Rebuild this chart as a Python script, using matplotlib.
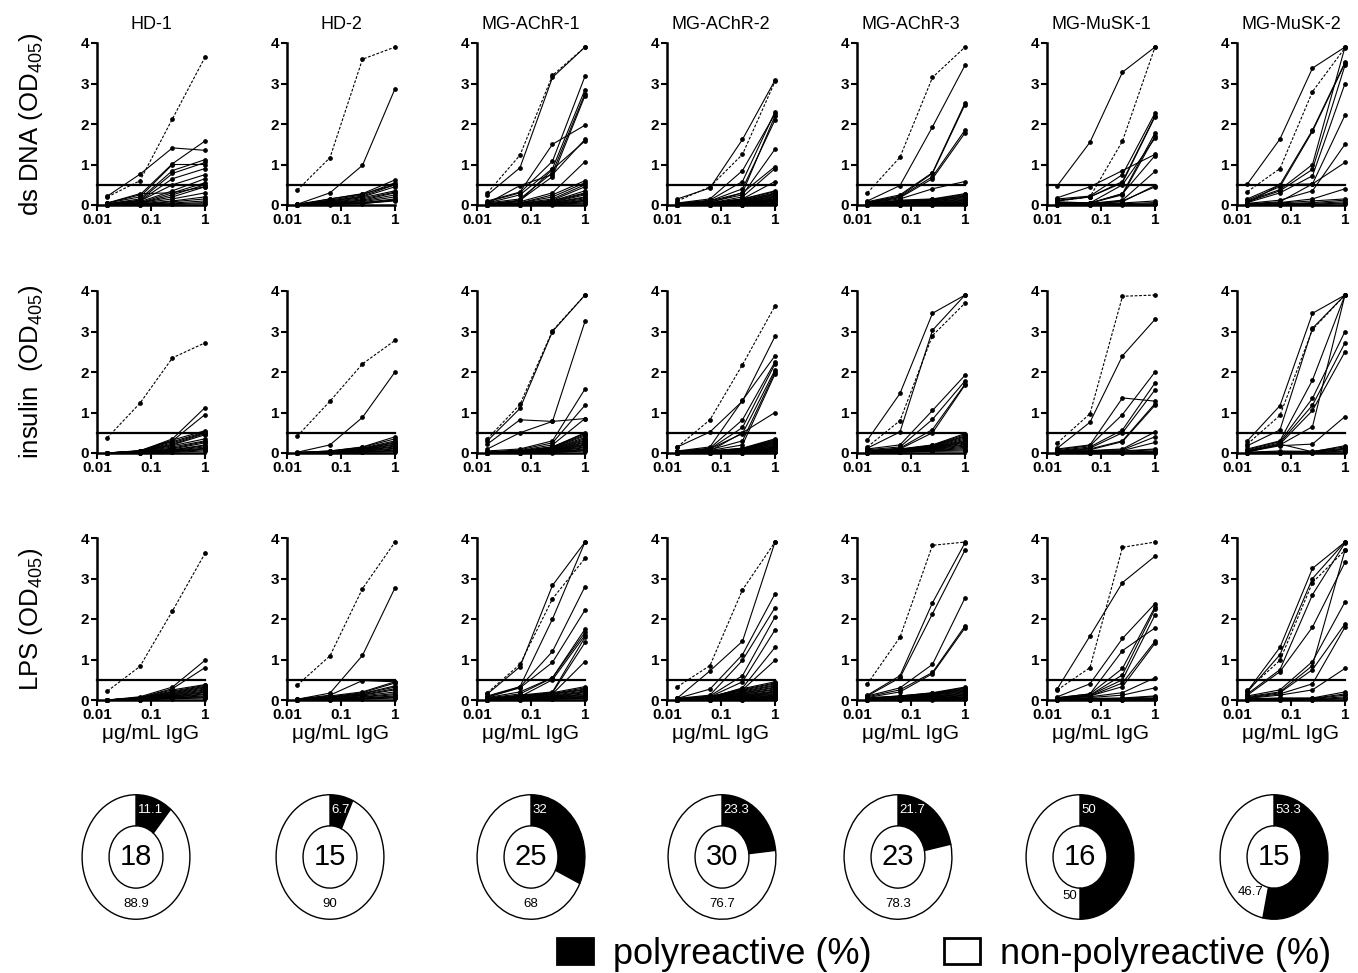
''' Polyreactivity ELISA of recombinant IgG from HD and MG donors '''

import matplotlib
matplotlib.use('Agg')
import matplotlib.pyplot as plt
from matplotlib import font_manager
from matplotlib.patches import Patch
from matplotlib.ticker import FixedLocator, NullLocator

names = {f.name for f in font_manager.fontManager.ttflist}
narrow = 'Liberation Sans Narrow' if 'Liberation Sans Narrow' in names else 'Liberation Sans'
plt.rcParams['font.family'] = [narrow, 'DejaVu Sans']
plt.rcParams['mathtext.default'] = 'regular'

# ---- data ----
conc = [0.0156, 0.0625, 0.25, 1.0]  # ug/mL IgG
cutoff = 0.5

donors = ['HD-1', 'HD-2', 'MG-AChR-1', 'MG-AChR-2', 'MG-AChR-3', 'MG-MuSK-1', 'MG-MuSK-2']
n_clones = [18, 15, 25, 30, 23, 16, 15]
poly_pct = [11.1, 6.7, 32, 23.3, 21.7, 50, 53.3]
nonpoly_pct = [88.9, 90, 68, 76.7, 78.3, 50, 46.7]
antigens = ['ds DNA (OD$_{405}$)', 'insulin  (OD$_{405}$)', 'LPS (OD$_{405}$)']

# positive control (dashed line), one per donor
ctrl_dsdna = [[0.2, 0.6, 2.13, 3.65], [0.37, 1.17, 3.6, 3.9], [0.3, 1.23, 3.2, 3.9],
              [0.1, 0.45, 1.25, 3.05], [0.3, 1.18, 3.15, 3.9], [0.1, 0.2, 1.58, 3.9],
              [0.33, 0.9, 2.8, 3.88]]
ctrl_insulin = [[0.38, 1.23, 2.35, 2.72], [0.42, 1.28, 2.2, 2.78], [0.35, 1.2, 3.02, 3.9],
                [0.15, 0.82, 2.18, 3.63], [0.15, 0.8, 2.9, 3.7], [0.25, 0.97, 3.87, 3.9],
                [0.22, 0.93, 3.05, 3.9]]
ctrl_lps = [[0.22, 0.83, 2.2, 3.62], [0.37, 1.09, 2.75, 3.9], [0.18, 0.88, 2.5, 3.5],
            [0.33, 0.85, 2.72, 3.9], [0.4, 1.55, 3.82, 3.9], [0.25, 0.8, 3.77, 3.9],
            [0.25, 0.98, 2.9, 3.7]]

# ds DNA
dsdna_hd1 = [[0.22, 0.76, 1.41, 1.35], [0.05, 0.25, 1.02, 1.58], [0.03, 0.15, 0.85, 1.12],
             [0.03, 0.12, 0.78, 1.05], [0.02, 0.1, 0.65, 0.9], [0.02, 0.1, 0.5, 0.75],
             [0.02, 0.08, 0.35, 0.65], [0.01, 0.06, 0.3, 0.55], [0.01, 0.05, 0.25, 0.5],
             [0.01, 0.05, 0.2, 0.45], [0.01, 0.04, 0.15, 0.3], [0.01, 0.03, 0.1, 0.2],
             [0.0, 0.02, 0.08, 0.15], [0.0, 0.02, 0.05, 0.1], [0.0, 0.01, 0.03, 0.06],
             [0.0, 0.01, 0.02, 0.03], [0.05, 0.28, 0.3, 0.45], [0.05, 0.2, 1.0, 1.0]]
dsdna_hd2 = [[0.02, 0.3, 0.98, 2.87], [0.02, 0.15, 0.28, 0.62], [0.02, 0.12, 0.25, 0.55],
             [0.01, 0.1, 0.22, 0.5], [0.01, 0.1, 0.2, 0.45], [0.01, 0.08, 0.18, 0.35],
             [0.01, 0.07, 0.15, 0.32], [0.01, 0.06, 0.12, 0.3], [0.0, 0.05, 0.1, 0.25],
             [0.0, 0.04, 0.08, 0.2], [0.0, 0.03, 0.06, 0.15], [0.0, 0.03, 0.05, 0.13],
             [0.0, 0.02, 0.04, 0.1], [0.0, 0.15, 0.27, 0.5], [0.0, 0.01, 0.03, 0.12]]
dsdna_achr1 = [[0.25, 0.92, 3.15, 3.9], [0.1, 0.32, 1.5, 1.97], [0.08, 0.3, 1.08, 3.18],
               [0.05, 0.25, 0.9, 2.85], [0.05, 0.15, 0.8, 2.75], [0.04, 0.48, 0.75, 1.62],
               [0.03, 0.12, 0.7, 2.7], [0.03, 0.1, 0.88, 1.58], [0.02, 0.08, 0.3, 1.07],
               [0.02, 0.05, 0.25, 0.6], [0.02, 0.05, 0.2, 0.55], [0.01, 0.04, 0.15, 0.5],
               [0.01, 0.04, 0.12, 0.45], [0.01, 0.03, 0.1, 0.35], [0.01, 0.03, 0.1, 0.3],
               [0.01, 0.03, 0.08, 0.28], [0.01, 0.02, 0.07, 0.25], [0.0, 0.02, 0.06, 0.2],
               [0.0, 0.02, 0.05, 0.18], [0.0, 0.02, 0.04, 0.15], [0.0, 0.01, 0.03, 0.12],
               [0.0, 0.01, 0.03, 0.1], [0.0, 0.01, 0.02, 0.08], [0.0, 0.01, 0.02, 0.05],
               [0.0, 0.0, 0.01, 0.03]]
dsdna_achr2 = [[0.15, 0.42, 1.62, 3.08], [0.05, 0.15, 0.85, 2.25], [0.04, 0.12, 0.58, 2.3],
               [0.03, 0.1, 0.4, 2.1], [0.03, 0.1, 0.3, 2.2], [0.03, 0.08, 0.25, 1.38],
               [0.02, 0.06, 0.3, 0.95], [0.02, 0.05, 0.2, 0.9], [0.02, 0.05, 0.15, 0.58],
               [0.02, 0.05, 0.15, 0.35], [0.02, 0.04, 0.14, 0.33], [0.01, 0.04, 0.12, 0.3],
               [0.01, 0.04, 0.12, 0.28], [0.01, 0.03, 0.1, 0.26], [0.01, 0.03, 0.1, 0.24],
               [0.01, 0.03, 0.08, 0.22], [0.01, 0.03, 0.08, 0.2], [0.01, 0.02, 0.07, 0.18],
               [0.01, 0.02, 0.06, 0.16], [0.01, 0.02, 0.05, 0.15], [0.0, 0.02, 0.05, 0.13],
               [0.0, 0.02, 0.04, 0.12], [0.0, 0.01, 0.04, 0.1], [0.0, 0.01, 0.03, 0.09],
               [0.0, 0.01, 0.03, 0.08], [0.0, 0.01, 0.02, 0.06], [0.0, 0.01, 0.02, 0.05],
               [0.0, 0.01, 0.01, 0.04], [0.0, 0.0, 0.01, 0.03], [0.0, 0.0, 0.01, 0.02]]
dsdna_achr3 = [[0.1, 0.48, 1.93, 3.45], [0.08, 0.25, 0.8, 2.52], [0.07, 0.22, 0.78, 2.48],
               [0.06, 0.2, 0.7, 1.85], [0.05, 0.18, 0.65, 1.78], [0.05, 0.15, 0.4, 0.58],
               [0.04, 0.12, 0.15, 0.28], [0.04, 0.1, 0.14, 0.26], [0.03, 0.1, 0.12, 0.24],
               [0.03, 0.08, 0.12, 0.22], [0.03, 0.08, 0.1, 0.2], [0.02, 0.06, 0.1, 0.18],
               [0.02, 0.05, 0.08, 0.16], [0.02, 0.05, 0.07, 0.14], [0.01, 0.04, 0.06, 0.12],
               [0.01, 0.03, 0.05, 0.1], [0.01, 0.03, 0.04, 0.08], [0.01, 0.02, 0.03, 0.07],
               [0.0, 0.02, 0.03, 0.05], [0.0, 0.01, 0.02, 0.04], [0.0, 0.01, 0.02, 0.03],
               [0.0, 0.01, 0.01, 0.02], [0.0, 0.0, 0.01, 0.02]]
dsdna_musk1 = [[0.48, 1.55, 3.28, 3.9], [0.18, 0.45, 0.85, 1.25], [0.15, 0.22, 0.75, 2.27],
               [0.12, 0.2, 0.58, 2.2], [0.1, 0.2, 0.55, 2.18], [0.08, 0.05, 0.28, 1.78],
               [0.06, 0.05, 0.25, 1.7], [0.05, 0.05, 0.5, 1.65], [0.04, 0.04, 0.28, 1.22],
               [0.03, 0.04, 0.12, 0.83], [0.02, 0.03, 0.08, 0.48], [0.02, 0.03, 0.1, 0.45],
               [0.01, 0.02, 0.05, 0.1], [0.01, 0.02, 0.03, 0.06], [0.0, 0.01, 0.02, 0.03],
               [0.0, 0.01, 0.01, 0.02]]
dsdna_musk2 = [[0.52, 1.63, 3.38, 3.9], [0.15, 0.5, 1.85, 3.52], [0.12, 0.45, 1.82, 3.5],
               [0.1, 0.38, 1.0, 3.9], [0.08, 0.35, 0.88, 3.45], [0.06, 0.3, 0.72, 3.0],
               [0.05, 0.5, 0.52, 2.22], [0.04, 0.12, 0.35, 1.5], [0.03, 0.08, 0.52, 1.05],
               [0.02, 0.06, 0.15, 0.4], [0.02, 0.05, 0.1, 0.15], [0.01, 0.03, 0.06, 0.12],
               [0.01, 0.02, 0.04, 0.08], [0.0, 0.01, 0.02, 0.05], [0.0, 0.01, 0.01, 0.03]]

# insulin
insulin_hd1 = [[0.0, 0.05, 0.35, 1.12], [0.0, 0.05, 0.3, 0.95], [0.0, 0.06, 0.32, 0.55],
               [0.0, 0.05, 0.28, 0.52], [0.0, 0.04, 0.25, 0.5], [0.0, 0.04, 0.22, 0.48],
               [0.0, 0.04, 0.2, 0.45], [0.0, 0.03, 0.18, 0.35], [0.0, 0.03, 0.15, 0.3],
               [0.0, 0.03, 0.12, 0.28], [0.0, 0.02, 0.1, 0.25], [0.0, 0.02, 0.08, 0.2],
               [0.0, 0.02, 0.07, 0.18], [0.0, 0.02, 0.06, 0.15], [0.0, 0.01, 0.05, 0.12],
               [0.0, 0.01, 0.04, 0.1], [0.0, 0.01, 0.03, 0.08], [0.0, 0.01, 0.02, 0.05]]
insulin_hd2 = [[0.02, 0.2, 0.88, 2.0], [0.01, 0.05, 0.15, 0.4], [0.01, 0.05, 0.14, 0.35],
               [0.01, 0.04, 0.12, 0.3], [0.01, 0.04, 0.11, 0.27], [0.01, 0.04, 0.1, 0.25],
               [0.0, 0.03, 0.09, 0.22], [0.0, 0.03, 0.08, 0.2], [0.0, 0.03, 0.07, 0.17],
               [0.0, 0.02, 0.06, 0.15], [0.0, 0.02, 0.05, 0.12], [0.0, 0.02, 0.04, 0.1],
               [0.0, 0.01, 0.03, 0.07], [0.0, 0.01, 0.02, 0.05], [0.0, 0.01, 0.02, 0.03]]
insulin_achr1 = [[0.3, 1.1, 3.0, 3.9], [0.22, 0.82, 0.78, 3.25], [0.1, 0.5, 0.78, 0.85],
                 [0.05, 0.1, 0.3, 1.58], [0.02, 0.08, 0.25, 1.18], [0.02, 0.06, 0.2, 0.85],
                 [0.01, 0.05, 0.15, 0.5], [0.01, 0.05, 0.15, 0.48], [0.01, 0.05, 0.14, 0.45],
                 [0.01, 0.04, 0.13, 0.42], [0.01, 0.04, 0.12, 0.38], [0.01, 0.04, 0.11, 0.35],
                 [0.01, 0.03, 0.1, 0.32], [0.01, 0.03, 0.09, 0.3], [0.0, 0.03, 0.08, 0.27],
                 [0.0, 0.03, 0.07, 0.25], [0.0, 0.02, 0.07, 0.22], [0.0, 0.02, 0.06, 0.2],
                 [0.0, 0.02, 0.05, 0.18], [0.0, 0.02, 0.05, 0.15], [0.0, 0.01, 0.04, 0.13],
                 [0.0, 0.01, 0.03, 0.1], [0.0, 0.01, 0.03, 0.08], [0.0, 0.01, 0.02, 0.06],
                 [0.0, 0.0, 0.01, 0.05]]
insulin_achr2 = [[0.15, 0.52, 1.28, 2.88], [0.05, 0.15, 1.3, 2.4], [0.04, 0.12, 0.82, 2.25],
                 [0.04, 0.1, 0.63, 2.2], [0.03, 0.1, 0.48, 2.05], [0.03, 0.08, 0.3, 2.0],
                 [0.02, 0.06, 0.2, 1.95], [0.02, 0.05, 0.5, 1.0], [0.02, 0.05, 0.12, 0.35],
                 [0.02, 0.05, 0.11, 0.33], [0.02, 0.04, 0.1, 0.31], [0.01, 0.04, 0.1, 0.29],
                 [0.01, 0.04, 0.09, 0.27], [0.01, 0.04, 0.09, 0.25], [0.01, 0.03, 0.08, 0.23],
                 [0.01, 0.03, 0.08, 0.21], [0.01, 0.03, 0.07, 0.19], [0.01, 0.03, 0.07, 0.17],
                 [0.01, 0.02, 0.06, 0.15], [0.01, 0.02, 0.05, 0.14], [0.0, 0.02, 0.05, 0.12],
                 [0.0, 0.02, 0.04, 0.11], [0.0, 0.02, 0.04, 0.1], [0.0, 0.01, 0.03, 0.08],
                 [0.0, 0.01, 0.03, 0.07], [0.0, 0.01, 0.02, 0.06], [0.0, 0.01, 0.02, 0.05],
                 [0.0, 0.01, 0.01, 0.04], [0.0, 0.0, 0.01, 0.03], [0.0, 0.0, 0.01, 0.02]]
insulin_achr3 = [[0.32, 1.47, 3.45, 3.9], [0.12, 0.52, 3.03, 3.9], [0.1, 0.2, 1.05, 1.92],
                 [0.08, 0.15, 0.83, 1.78], [0.06, 0.12, 0.58, 1.7], [0.05, 0.1, 0.5, 1.68],
                 [0.05, 0.1, 0.2, 0.48], [0.05, 0.09, 0.19, 0.45], [0.04, 0.09, 0.18, 0.42],
                 [0.04, 0.08, 0.17, 0.4], [0.03, 0.08, 0.16, 0.37], [0.03, 0.07, 0.15, 0.34],
                 [0.03, 0.07, 0.14, 0.31], [0.02, 0.06, 0.13, 0.29], [0.02, 0.06, 0.12, 0.27],
                 [0.02, 0.05, 0.11, 0.25], [0.02, 0.05, 0.1, 0.22], [0.01, 0.04, 0.09, 0.2],
                 [0.01, 0.04, 0.08, 0.17], [0.01, 0.03, 0.07, 0.14], [0.01, 0.03, 0.06, 0.11],
                 [0.0, 0.02, 0.05, 0.08], [0.0, 0.02, 0.04, 0.05]]
insulin_musk1 = [[0.12, 0.76, 2.4, 3.3], [0.1, 0.2, 1.36, 1.28], [0.08, 0.18, 0.95, 2.0],
                 [0.06, 0.15, 0.57, 1.73], [0.05, 0.12, 0.5, 1.56], [0.04, 0.1, 0.3, 1.22],
                 [0.03, 0.08, 0.28, 1.18], [0.02, 0.06, 0.1, 0.52], [0.02, 0.05, 0.08, 0.4],
                 [0.01, 0.04, 0.06, 0.26], [0.01, 0.03, 0.05, 0.1], [0.0, 0.02, 0.04, 0.08],
                 [0.0, 0.01, 0.02, 0.05], [0.0, 0.01, 0.02, 0.03], [0.0, 0.0, 0.01, 0.02],
                 [0.0, 0.0, 0.01, 0.01]]
insulin_musk2 = [[0.3, 1.17, 3.45, 3.9], [0.18, 0.57, 3.08, 3.9], [0.1, 0.3, 1.8, 3.9],
                 [0.08, 0.28, 1.35, 3.0], [0.06, 0.25, 1.18, 2.72], [0.05, 0.22, 1.05, 2.5],
                 [0.04, 0.2, 0.65, 3.9], [0.03, 0.18, 0.22, 0.9], [0.02, 0.22, 0.03, 0.18],
                 [0.02, 0.05, 0.04, 0.15], [0.01, 0.03, 0.03, 0.12], [0.01, 0.02, 0.02, 0.1],
                 [0.0, 0.01, 0.02, 0.08], [0.0, 0.01, 0.01, 0.05], [0.0, 0.0, 0.01, 0.03]]

# LPS
lps_hd1 = [[0.0, 0.08, 0.32, 0.98], [0.0, 0.06, 0.28, 0.8], [0.0, 0.06, 0.25, 0.38],
           [0.0, 0.05, 0.22, 0.36], [0.0, 0.05, 0.2, 0.34], [0.0, 0.05, 0.18, 0.32],
           [0.0, 0.04, 0.16, 0.3], [0.0, 0.04, 0.15, 0.27], [0.0, 0.04, 0.13, 0.25],
           [0.0, 0.03, 0.12, 0.22], [0.0, 0.03, 0.1, 0.2], [0.0, 0.03, 0.09, 0.18],
           [0.0, 0.02, 0.08, 0.15], [0.0, 0.02, 0.07, 0.13], [0.0, 0.02, 0.06, 0.1],
           [0.0, 0.01, 0.05, 0.08], [0.0, 0.01, 0.04, 0.06], [0.0, 0.01, 0.03, 0.05]]
lps_hd2 = [[0.02, 0.17, 1.1, 2.77], [0.02, 0.12, 0.48, 0.45], [0.02, 0.1, 0.2, 0.45],
           [0.01, 0.08, 0.18, 0.42], [0.01, 0.07, 0.16, 0.35], [0.01, 0.06, 0.15, 0.32],
           [0.01, 0.05, 0.13, 0.28], [0.0, 0.05, 0.12, 0.25], [0.0, 0.04, 0.1, 0.2],
           [0.0, 0.03, 0.08, 0.16], [0.0, 0.03, 0.07, 0.13], [0.0, 0.02, 0.05, 0.1],
           [0.0, 0.02, 0.04, 0.08], [0.0, 0.01, 0.03, 0.06], [0.0, 0.01, 0.02, 0.05]]
lps_achr1 = [[0.15, 0.82, 2.83, 3.9], [0.1, 0.33, 2.0, 3.9], [0.08, 0.32, 1.2, 2.8],
             [0.07, 0.3, 0.93, 2.22], [0.06, 0.2, 0.55, 1.75], [0.05, 0.15, 0.55, 1.67],
             [0.04, 0.12, 0.2, 1.55], [0.04, 0.1, 0.18, 1.42], [0.03, 0.08, 0.5, 1.6],
             [0.02, 0.06, 0.15, 0.95], [0.02, 0.1, 0.18, 0.33], [0.02, 0.1, 0.16, 0.3],
             [0.02, 0.08, 0.15, 0.27], [0.01, 0.08, 0.14, 0.25], [0.01, 0.07, 0.12, 0.22],
             [0.01, 0.06, 0.1, 0.2], [0.01, 0.05, 0.09, 0.18], [0.01, 0.04, 0.08, 0.15],
             [0.01, 0.04, 0.07, 0.13], [0.0, 0.03, 0.06, 0.11], [0.0, 0.03, 0.05, 0.09],
             [0.0, 0.02, 0.04, 0.07], [0.0, 0.02, 0.03, 0.05], [0.0, 0.01, 0.02, 0.04],
             [0.0, 0.01, 0.02, 0.03]]
lps_achr2 = [[0.05, 0.72, 1.45, 3.9], [0.04, 0.27, 1.12, 2.62], [0.04, 0.12, 0.98, 2.28],
             [0.03, 0.1, 0.6, 2.05], [0.03, 0.08, 0.45, 1.73], [0.02, 0.06, 0.3, 1.3],
             [0.02, 0.05, 0.25, 0.98], [0.02, 0.08, 0.28, 0.45], [0.02, 0.08, 0.26, 0.42],
             [0.02, 0.07, 0.24, 0.4], [0.02, 0.07, 0.22, 0.37], [0.01, 0.06, 0.2, 0.35],
             [0.01, 0.06, 0.18, 0.32], [0.01, 0.05, 0.17, 0.3], [0.01, 0.05, 0.15, 0.27],
             [0.01, 0.04, 0.14, 0.25], [0.01, 0.04, 0.12, 0.22], [0.01, 0.04, 0.11, 0.2],
             [0.01, 0.03, 0.1, 0.18], [0.0, 0.03, 0.09, 0.16], [0.0, 0.03, 0.08, 0.14],
             [0.0, 0.02, 0.07, 0.12], [0.0, 0.02, 0.06, 0.1], [0.0, 0.02, 0.05, 0.09],
             [0.0, 0.01, 0.04, 0.07], [0.0, 0.01, 0.03, 0.06], [0.0, 0.01, 0.03, 0.05],
             [0.0, 0.01, 0.02, 0.04], [0.0, 0.0, 0.01, 0.03], [0.0, 0.0, 0.01, 0.02]]
lps_achr3 = [[0.12, 0.6, 2.4, 3.88], [0.1, 0.55, 2.13, 3.7], [0.1, 0.3, 0.88, 2.52],
             [0.08, 0.25, 0.68, 1.83], [0.06, 0.2, 0.65, 1.78], [0.05, 0.1, 0.18, 0.32],
             [0.05, 0.1, 0.17, 0.3], [0.04, 0.09, 0.16, 0.28], [0.04, 0.08, 0.15, 0.26],
             [0.03, 0.08, 0.14, 0.24], [0.03, 0.07, 0.13, 0.22], [0.03, 0.06, 0.12, 0.2],
             [0.02, 0.06, 0.1, 0.18], [0.02, 0.05, 0.09, 0.16], [0.02, 0.05, 0.08, 0.14],
             [0.02, 0.04, 0.07, 0.12], [0.01, 0.04, 0.06, 0.1], [0.01, 0.03, 0.05, 0.08],
             [0.01, 0.03, 0.04, 0.07], [0.01, 0.02, 0.03, 0.05], [0.0, 0.02, 0.03, 0.04],
             [0.0, 0.01, 0.02, 0.03], [0.0, 0.01, 0.01, 0.02]]
lps_musk1 = [[0.28, 1.58, 2.9, 3.55], [0.08, 0.4, 1.52, 2.38], [0.06, 0.15, 1.22, 1.78],
             [0.05, 0.15, 0.78, 2.3], [0.05, 0.12, 0.62, 2.25], [0.04, 0.12, 0.5, 2.1],
             [0.04, 0.1, 0.42, 1.45], [0.03, 0.1, 0.33, 1.4], [0.03, 0.08, 0.18, 0.55],
             [0.02, 0.06, 0.12, 0.3], [0.02, 0.04, 0.05, 0.1], [0.01, 0.03, 0.04, 0.08],
             [0.01, 0.02, 0.03, 0.05], [0.0, 0.01, 0.02, 0.04], [0.0, 0.01, 0.01, 0.02],
             [0.0, 0.0, 0.01, 0.02]]
lps_musk2 = [[0.22, 1.3, 3.25, 3.9], [0.2, 1.12, 3.0, 3.9], [0.15, 0.75, 2.6, 3.88],
             [0.12, 0.7, 1.8, 3.4], [0.1, 0.25, 0.95, 2.42], [0.08, 0.2, 0.85, 3.7],
             [0.06, 0.18, 0.75, 1.88], [0.05, 0.15, 0.4, 1.8], [0.04, 0.12, 0.25, 0.78],
             [0.03, 0.05, 0.05, 0.2], [0.02, 0.04, 0.04, 0.15], [0.01, 0.03, 0.03, 0.12],
             [0.01, 0.02, 0.02, 0.08], [0.0, 0.01, 0.01, 0.05], [0.0, 0.0, 0.01, 0.03]]

rows = [
    (ctrl_dsdna, [dsdna_hd1, dsdna_hd2, dsdna_achr1, dsdna_achr2, dsdna_achr3, dsdna_musk1, dsdna_musk2]),
    (ctrl_insulin, [insulin_hd1, insulin_hd2, insulin_achr1, insulin_achr2, insulin_achr3,
                    insulin_musk1, insulin_musk2]),
    (ctrl_lps, [lps_hd1, lps_hd2, lps_achr1, lps_achr2, lps_achr3, lps_musk1, lps_musk2]),
]

# ---- layout (pixel based, figure is 1358 x 973) ----
W, H = 1358, 973
fig = plt.figure(figsize=(W / 100, H / 100), dpi=100)

col_left = 97
col_step = 190
ax_w = 108
row_bottom = [205, 453, 700]
ax_h = 162
donut_cx = [136, 330, 531, 722, 898, 1080, 1274]


def fx(px):
    return px / W


def fy(py):
    return 1 - py / H


for r, (ctrl, panels) in enumerate(rows):
    for c, clones in enumerate(panels):
        left = col_left + c * col_step
        ax = fig.add_axes([fx(left), fy(row_bottom[r]), fx(ax_w), ax_h / H])
        for y in clones:
            ax.plot(conc, y, color='black', lw=0.8, marker='o', ms=2.4)
        ax.plot(conc, ctrl[c], color='black', lw=0.8, marker='o', ms=2.4, dashes=(2.5, 1.5))
        ax.axhline(cutoff, color='black', lw=1.6)

        ax.set_xscale('log')
        ax.set_xlim(0.01, 1.0)
        ax.set_ylim(0, 4)
        ax.xaxis.set_major_locator(FixedLocator([0.01, 0.1, 1]))
        ax.xaxis.set_minor_locator(NullLocator())
        ax.set_xticklabels(['0.01', '0.1', '1'])
        ax.set_yticks([0, 1, 2, 3, 4])
        for lab in ax.get_xticklabels() + ax.get_yticklabels():
            lab.set_fontfamily('Liberation Sans')
            lab.set_fontweight('bold')
            lab.set_fontsize(11)
        ax.tick_params(direction='out', length=4, width=1.5, pad=1.5)
        for side in ['top', 'right']:
            ax.spines[side].set_visible(False)
        for side in ['left', 'bottom']:
            ax.spines[side].set_linewidth(1.8)
        for ln in ax.lines:
            ln.set_clip_on(False)

        if r == 0:
            ax.set_title(donors[c], fontsize=13, pad=10)
        if r == 2:
            ax.set_xlabel('\u03bcg/mL IgG', fontsize=15, labelpad=2)
        if c == 0:
            ax.set_ylabel(antigens[r], fontsize=18.5, labelpad=26)

# ---- donut charts ----
d_w, d_h, d_cy = 110, 127, 857
for c in range(len(donors)):
    cx = donut_cx[c]
    dax = fig.add_axes([fx(cx - d_w / 2), fy(d_cy + d_h / 2), fx(d_w), d_h / H])
    dax.pie([poly_pct[c], nonpoly_pct[c]], colors=['black', 'white'], startangle=90,
            counterclock=False, radius=1.0,
            wedgeprops=dict(width=0.5, edgecolor='black', linewidth=1.0))
    dax.set_aspect('auto')
    dax.set_xlim(-1.02, 1.02)
    dax.set_ylim(-1.02, 1.02)
    dax.text(0, 0, str(n_clones[c]), ha='center', va='center', fontsize=21)
    dax.text(0.03, 0.76, f'{poly_pct[c]:g}', ha='left', va='center', fontsize=9.5,
             color='white')
    if poly_pct[c] > 50:
        dax.text(-0.2, -0.56, f'{nonpoly_pct[c]:g}', ha='right', va='center', fontsize=9.5)
    elif poly_pct[c] == 50:
        dax.text(-0.05, -0.62, f'{nonpoly_pct[c]:g}', ha='right', va='center', fontsize=9.5)
    else:
        dax.text(0, -0.76, f'{nonpoly_pct[c]:g}', ha='center', va='center', fontsize=9.5)

# ---- legend ----
handles = [Patch(facecolor='black', edgecolor='black', linewidth=2),
           Patch(facecolor='white', edgecolor='black', linewidth=2)]
fig.legend(handles, ['polyreactive (%)', 'non-polyreactive (%)'], loc='center',
           bbox_to_anchor=(fx(944), fy(954)), ncol=2, frameon=False, fontsize=26,
           handlelength=1.0, handleheight=0.75, handletextpad=0.55, columnspacing=2.0,
           borderpad=0.1)

fig.savefig('out.png', dpi=100)
